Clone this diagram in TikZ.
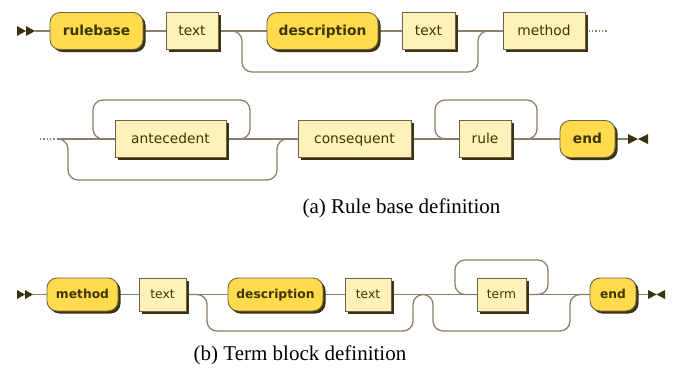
\documentclass[tikz,border=0pt]{standalone}
\usepackage{fontspec}
\setmainfont{Liberation Serif}
\newfontfamily\rrfont{DejaVu Sans}
\usetikzlibrary{shadows,backgrounds}
\definecolor{gold}{HTML}{FFDB4D}
\definecolor{lightc}{HTML}{FFF1BB}
\definecolor{borderc}{HTML}{6E6445}
\definecolor{shadowc}{HTML}{3B3210}
\definecolor{linec}{HTML}{8A806A}
\definecolor{textc}{HTML}{3F3500}
\begin{document}
\begin{tikzpicture}[x=1pt,y=-1pt,
  conn/.style={draw=linec, line width=1.3pt},
  rc/.style={rounded corners=10pt},
  rrbox/.style={draw=borderc, line width=0.9pt, inner sep=0pt, minimum height=37pt, text=textc,
    text height=0.95em, text depth=0.15em,
    drop shadow={opacity=1, fill=shadowc, shadow xshift=2.5pt, shadow yshift=-2.5pt}},
  termbox/.style={rrbox, fill=gold, rounded corners=10pt, font=\rrfont\bfseries\fontsize{13.8}{16}\selectfont},
  ntbox/.style={rrbox, fill=lightc, font=\rrfont\fontsize{13.8}{16}\selectfont},
  rowc/.style={minimum height=33pt},
  termc/.style={termbox, rowc, font=\rrfont\bfseries\fontsize{12.3}{15}\selectfont},
  ntc/.style={ntbox, rowc, font=\rrfont\fontsize{12.3}{15}\selectfont},
  sym/.style={fill=shadowc},
  captext/.style={font=\fontsize{21}{24}\selectfont, anchor=base, inner sep=0pt}]
\useasboundingbox (0,0) rectangle (675,368);

% ---------- Row 1 ----------
\node[termbox, minimum width=93pt] (rb) at (96.5,31) {rulebase};
\node[ntbox, minimum width=52pt] (t1) at (192,31) {text};
\node[termbox, minimum width=111pt] (d1) at (322.5,31) {description};
\node[ntbox, minimum width=53pt] (t2) at (428.5,31) {text};
\node[ntbox, minimum width=82pt] (m1) at (544,31) {method};
\coordinate (s1) at (35,31);
\coordinate (e1) at (608,31);
\fill[sym] (17,26) -- (26,31) -- (17,36) -- cycle;
\fill[sym] (26,26) -- (35,31) -- (26,36) -- cycle;

% ---------- Row 2 ----------
\node[ntbox, minimum width=111pt] (an) at (170.5,139) {antecedent};
\node[ntbox, minimum width=113pt] (co) at (354.5,139) {consequent};
\node[ntbox, minimum width=52pt] (ru) at (485,139) {rule};
\node[termbox, minimum width=55pt] (en1) at (587.5,139) {end};
\coordinate (s2a) at (40,139);
\coordinate (s2) at (57,139);
\coordinate (x2) at (630,139);
\fill[sym] (628,134) -- (638,139) -- (628,144) -- cycle;
\fill[sym] (648,134) -- (638,139) -- (648,144) -- cycle;

\node[captext] (capA) at (401.5,213) {(a) Rule base definition};

% ---------- Row 3 ----------
\node[termc, minimum width=71pt] (m3) at (82.5,294.5) {method};
\node[ntc, minimum width=47pt] (t3) at (162.5,294.5) {text};
\node[termc, minimum width=95pt] (d3) at (275.5,294.5) {description};
\node[ntc, minimum width=46pt] (t4) at (368,294.5) {text};
\node[ntc, minimum width=49pt] (tm) at (501.5,294.5) {term};
\node[termc, minimum width=46pt] (en3) at (613,294.5) {end};
\coordinate (s3) at (33,294.5);
\coordinate (j3) at (423,294.5);
\coordinate (h1) at (413,304.5);
\coordinate (h2) at (433,304.5);
\coordinate (x3) at (650,294.5);
\fill[sym] (17,290) -- (25,294.5) -- (17,299) -- cycle;
\fill[sym] (25,290) -- (33,294.5) -- (25,299) -- cycle;
\fill[sym] (648,290) -- (656.5,294.5) -- (648,299) -- cycle;
\fill[sym] (665,290) -- (656.5,294.5) -- (665,299) -- cycle;

\node[captext] (capB) at (300,360) {(b) Term block definition};

% ---------- Connectors ----------
\begin{scope}[on background layer]
% row 1
\draw[conn] (s1) -- (rb);
\draw[conn] (rb) -- (t1);
\draw[conn] (t1) -- (d1);
\draw[conn] (d1) -- (t2);
\draw[conn] (t2) -- (m1);
\draw[conn, rc] (t1.east) -- (242,31) -- (242,72) -- (478,72) -- (478,31) -- (m1.west);
\draw[conn, dotted] (m1) -- (e1);
% row 2
\draw[conn, dotted] (s2a) -- (s2);
\draw[conn] (s2) -- (an);
\draw[conn, rc] (s2) -- (68,139) -- (68,180) -- (277,180) -- (277,139) -- (co.west);
\draw[conn] (an) -- (co);
\draw[conn, rc] (an.east) -- (250,139) -- (250,100) -- (93,100) -- (93,139) -- (an.west);
\draw[conn] (co) -- (ru);
\draw[conn] (ru) -- (en1);
\draw[conn, rc] (ru.east) -- (537,139) -- (537,100) -- (435,100) -- (435,139) -- (ru.west);
\draw[conn] (en1) -- (x2);
% row 3
\draw[conn] (s3) -- (m3);
\draw[conn] (m3) -- (t3);
\draw[conn] (t3) -- (d3);
\draw[conn] (d3) -- (t4);
\draw[conn] (t4) -- (tm);
\draw[conn] (tm) -- (en3);
\draw[conn] (en3) -- (x3);
\draw[conn, rc] (t3.east) -- (207,294.5) -- (207,331) -- (413,331) -- (h1);
\draw[conn] (h1) .. controls (413,299) and (417.5,294.5) .. (j3);
\draw[conn] (j3) .. controls (428.5,294.5) and (433,299) .. (h2);
\draw[conn, rc] (h2) -- (433,331) -- (570,331) -- (570,294.5) -- (en3.west);
\draw[conn, rc] (tm.east) -- (548,294.5) -- (548,260) -- (455,260) -- (455,294.5) -- (tm.west);
\end{scope}
\end{tikzpicture}
\end{document}
